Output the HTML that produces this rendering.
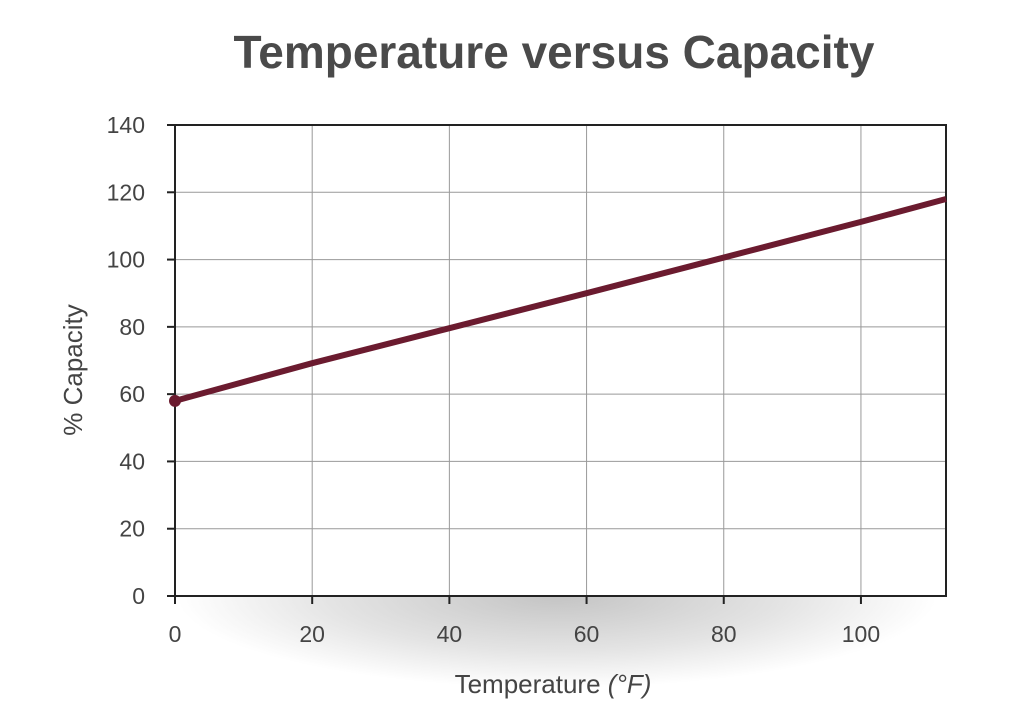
<!DOCTYPE html>
<html><head><meta charset="utf-8"><style>
body{margin:0;background:#fff;}
svg{display:block;font-family:"Liberation Sans",sans-serif;}
</style></head><body>
<svg id="chart" width="1012" height="715">
<defs>
<radialGradient id="shadow" cx="0.5" cy="0.5" r="0.5">
<stop offset="0" stop-color="#c4c4c4"/><stop offset="0.6" stop-color="#e4e4e4"/><stop offset="1" stop-color="#fff"/>
</radialGradient>
</defs>
<ellipse cx="557" cy="596" rx="380" ry="92" fill="url(#shadow)"/>
<rect x="0" y="0" width="1012" height="596" fill="#fff"/>
<text x="554" y="68" text-anchor="middle" font-size="46" font-weight="bold" fill="#4a4a4a">Temperature versus Capacity</text>
<g id="grid"></g>
<g id="axes"></g>
<text x="553" y="693" text-anchor="middle" font-size="26" fill="#444">Temperature <tspan font-style="italic">(°F)</tspan></text>
<text transform="translate(82,370) rotate(-90)" text-anchor="middle" font-size="26" fill="#444">% Capacity</text>
<g id="series"></g>
</svg>
<script>
const xTicks=[0,20,40,60,80,100];
const yTicks=[0,20,40,60,80,100,120,140];
const temps=[0,20,40,60,80,100,112.4];
const capacity=[58,69.2,79.6,90,100.6,111.2,118];
const X0=175,X1=946,XMAX=112.4,Y0=596,Y1=125,YMAX=140;
const sx=v=>X0+(X1-X0)*v/XMAX;
const sy=v=>Y0-(Y0-Y1)*v/YMAX;
const NS="http://www.w3.org/2000/svg";
function mk(tag,attrs,parent){const e=document.createElementNS(NS,tag);for(const k in attrs)e.setAttribute(k,attrs[k]);document.getElementById(parent).appendChild(e);return e;}
xTicks.forEach(t=>{
 if(t>0){const l=mk('line',{x1:sx(t),x2:sx(t),y1:Y1,y2:Y0,stroke:'#999','stroke-width':1},'grid');
 
 }
 const tx=mk('text',{x:sx(t),y:Y0+46,'text-anchor':'middle','font-size':23,fill:'#444'},'axes');tx.textContent=t;
 
 
 const tk=mk('line',{x1:sx(t),x2:sx(t),y1:Y0,y2:Y0+8,stroke:'#222','stroke-width':2},'axes');
 
 
});
yTicks.forEach(t=>{
 if(t>0){const l=mk('line',{x1:X0,x2:X1,y1:sy(t),y2:sy(t),stroke:'#999','stroke-width':1},'grid');
 
 }
 const tx=mk('text',{x:X0-30,y:sy(t)+8,'text-anchor':'end','font-size':23,fill:'#444'},'axes');tx.textContent=t;
 
 
 const tk=mk('line',{x1:X0-8,x2:X0,y1:sy(t),y2:sy(t),stroke:'#222','stroke-width':2},'axes');
 
 
});
const fr=mk('rect',{x:X0,y:Y1,width:X1-X0,height:Y0-Y1,fill:'none',stroke:'#222','stroke-width':2},'axes');


const pts=temps.map((t,i)=>sx(t)+','+sy(capacity[i])).join(' ');
const pl=mk('polyline',{points:pts,fill:'none',stroke:'#6b1b2f','stroke-width':6},'series');


const c=mk('circle',{cx:sx(temps[0]),cy:sy(capacity[0]),r:6,fill:'#6b1b2f'},'series');


</script>
</body></html>
